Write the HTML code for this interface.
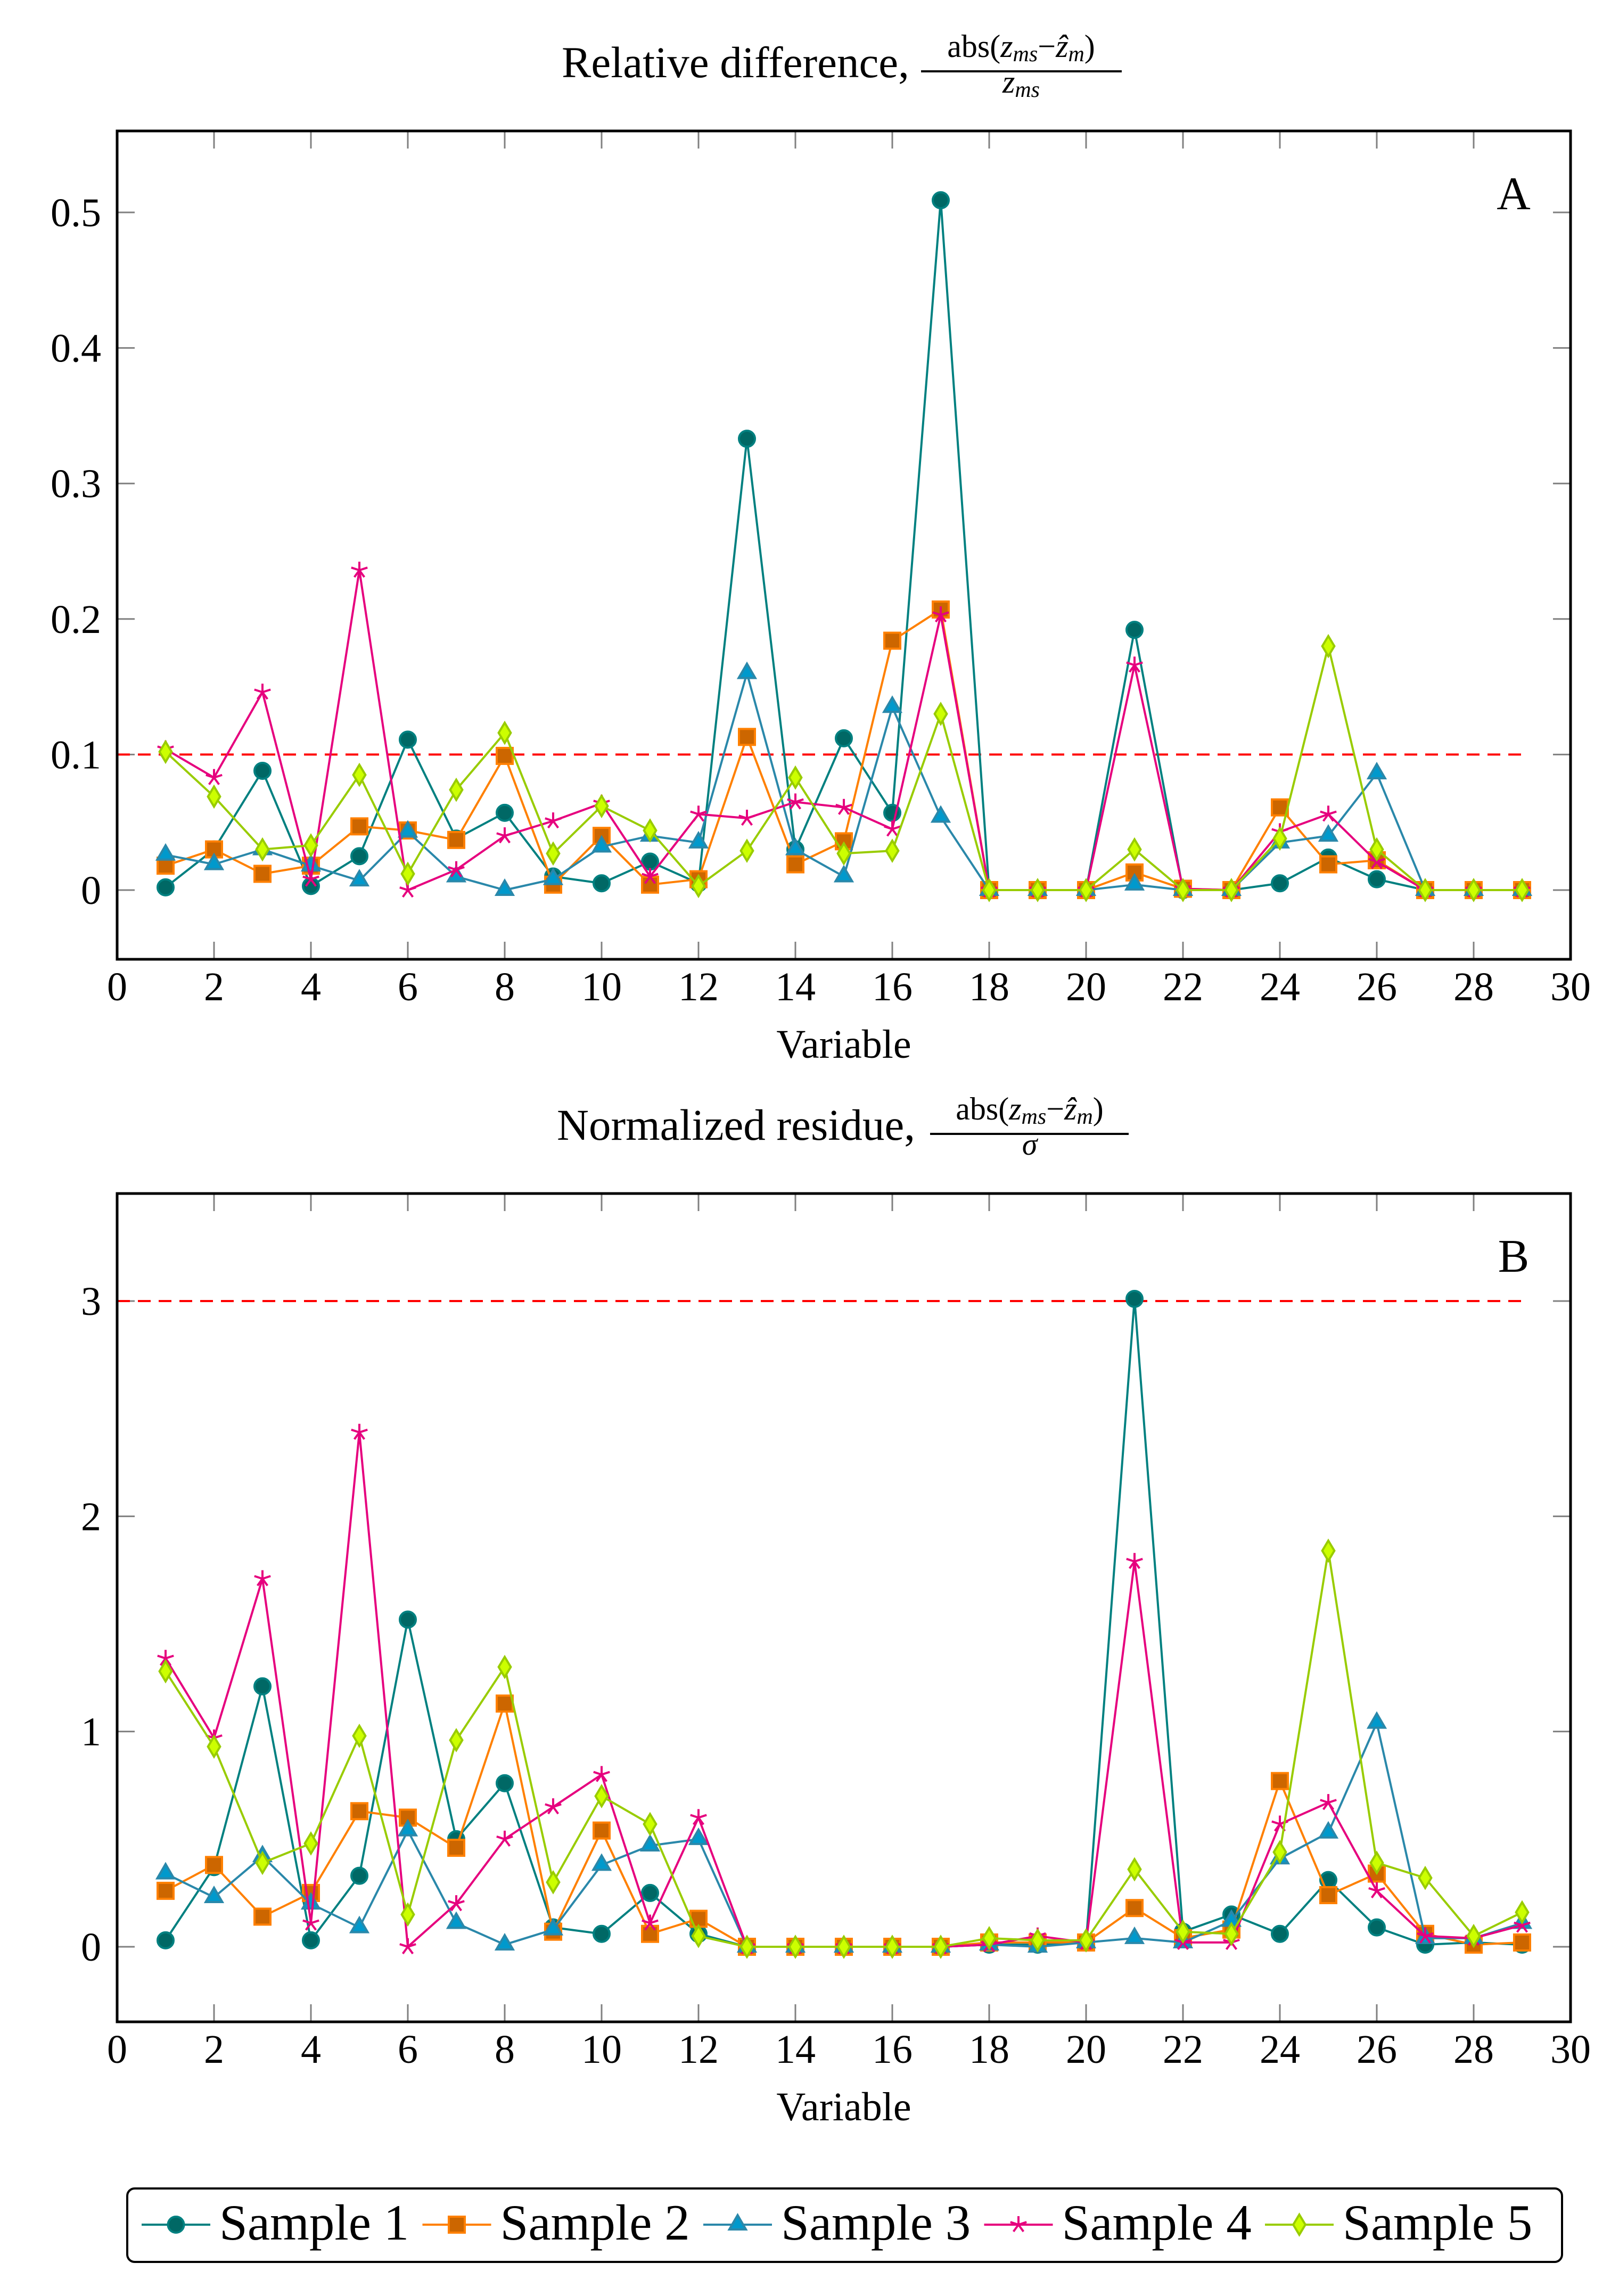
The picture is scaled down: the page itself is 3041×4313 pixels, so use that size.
<!DOCTYPE html>
<html><head><meta charset="utf-8"><style>
html,body{margin:0;padding:0;background:#fff;}
svg{display:block;font-family:"Liberation Serif",serif;}
</style></head><body>
<svg id="fig" width="3041" height="4313" viewBox="0 0 3041 4313" xmlns="http://www.w3.org/2000/svg">
<g>
<text x="1055" y="145" font-size="83">Relative difference,</text>
<text x="1918" y="107" font-size="60" text-anchor="middle">abs(<tspan font-style="italic">z</tspan><tspan font-style="italic" font-size="42" dy="8">ms</tspan><tspan dy="-8">−</tspan><tspan font-style="italic">ẑ</tspan><tspan font-style="italic" font-size="42" dy="8">m</tspan><tspan dy="-8">)</tspan></text>
<line x1="1730" x2="2107" y1="134" y2="134" stroke="#000" stroke-width="4"/>
<text x="1918" y="174" font-size="60" text-anchor="middle" font-style="italic">z<tspan font-size="42" dy="8">ms</tspan></text>
</g>
<g>
<text x="1046" y="2141" font-size="83">Normalized residue,</text>
<text x="1934" y="2103" font-size="60" text-anchor="middle">abs(<tspan font-style="italic">z</tspan><tspan font-style="italic" font-size="42" dy="8">ms</tspan><tspan dy="-8">−</tspan><tspan font-style="italic">ẑ</tspan><tspan font-style="italic" font-size="42" dy="8">m</tspan><tspan dy="-8">)</tspan></text>
<line x1="1747" x2="2120" y1="2130" y2="2130" stroke="#000" stroke-width="4"/>
<text x="1934" y="2169" font-size="58" text-anchor="middle" font-style="italic">σ</text>
</g>
<g id="chartA"></g>
<g id="chartB"></g>
<g id="legend">
<rect x="239" y="4111" width="2695" height="138" rx="14" ry="14" fill="#fff" stroke="#000" stroke-width="4"/>
</g>
</svg>
<script>
const xValues = [1,2,3,4,5,6,7,8,9,10,11,12,13,14,15,16,17,18,19,20,21,22,23,24,25,26,27,28,29];
const seriesNames = ["Sample 1","Sample 2","Sample 3","Sample 4","Sample 5"];
const xTicks = [0,2,4,6,8,10,12,14,16,18,20,22,24,26,28,30];
const yTicksA = [0,0.1,0.2,0.3,0.4,0.5];
const yTickLabelsA = ["0","0.1","0.2","0.3","0.4","0.5"];
const yTicksB = [0,1,2,3];
const yTickLabelsB = ["0","1","2","3"];
const thresholdA = 0.1;
const thresholdB = 3;
const a1 = [0.002,0.03,0.088,0.003,0.025,0.111,0.038,0.057,0.01,0.005,0.021,0.005,0.333,0.03,0.112,0.057,0.509,0,0,0,0.192,0,0,0.005,0.024,0.008,0,0,0];
const a2 = [0.018,0.03,0.012,0.018,0.047,0.044,0.037,0.099,0.004,0.04,0.004,0.008,0.113,0.019,0.036,0.184,0.207,0,0,0,0.013,0.001,0,0.061,0.019,0.022,0,0,0];
const a3 = [0.026,0.019,0.03,0.018,0.007,0.043,0.01,0,0.008,0.032,0.04,0.035,0.16,0.03,0.01,0.135,0.054,0,0,0,0.004,0,0,0.035,0.04,0.086,0,0,0];
const a4 = [0.104,0.083,0.146,0.008,0.236,0,0.015,0.04,0.051,0.064,0.01,0.056,0.053,0.065,0.061,0.045,0.203,0,0,0,0.166,0.001,0,0.043,0.056,0.021,0,0,0];
const a5 = [0.102,0.069,0.03,0.033,0.085,0.012,0.074,0.116,0.027,0.062,0.044,0.003,0.029,0.083,0.027,0.029,0.13,0,0,0,0.03,0,0,0.038,0.18,0.03,0,0,0];
const b1 = [0.03,0.37,1.21,0.03,0.33,1.52,0.5,0.76,0.09,0.06,0.25,0.06,0,0,0,0,0,0.01,0.01,0.02,3.01,0.07,0.15,0.06,0.31,0.09,0.01,0.02,0.01];
const b2 = [0.26,0.38,0.14,0.25,0.63,0.6,0.46,1.13,0.07,0.54,0.06,0.13,0,0,0,0,0,0.02,0.02,0.02,0.18,0.04,0.08,0.77,0.24,0.34,0.06,0.01,0.02];
const b3 = [0.34,0.23,0.42,0.2,0.09,0.54,0.11,0.01,0.08,0.38,0.47,0.5,0,0,0,0,0,0.01,0,0.02,0.04,0.02,0.12,0.41,0.53,1.04,0.04,0.04,0.11];
const b4 = [1.34,0.97,1.71,0.11,2.39,0,0.2,0.5,0.65,0.8,0.11,0.6,0,0,0,0,0,0.01,0.05,0.02,1.79,0.02,0.02,0.57,0.67,0.26,0.05,0.04,0.1];
const b5 = [1.28,0.93,0.39,0.48,0.98,0.15,0.96,1.3,0.3,0.7,0.57,0.05,0,0,0,0,0,0.04,0.03,0.03,0.36,0.07,0.06,0.44,1.84,0.39,0.32,0.05,0.16];

const NS="http://www.w3.org/2000/svg";
const styles=[
 {line:"#008080",fill:"#006865",edge:"#008080",m:"circle"},
 {line:"#ff8000",fill:"#cc6600",edge:"#ff8000",m:"square"},
 {line:"#2a88aa",fill:"#0099cc",edge:"#2a88aa",m:"triangle"},
 {line:"#e6007e",fill:"#e6007e",edge:"#e6007e",m:"star"},
 {line:"#99cc00",fill:"#ccff00",edge:"#99cc00",m:"diamond"}];
function mk(tag,attrs,parent){const e=document.createElementNS(NS,tag);for(const k in attrs)e.setAttribute(k,attrs[k]);parent.appendChild(e);return e;}
function marker(g,type,cx,cy,st,s){
 s=s||1;let e;
 if(type==="circle"){e=mk("circle",{cx:cx,cy:cy,r:15*s,fill:st.fill,stroke:st.edge,"stroke-width":4},g);}
 else if(type==="square"){e=mk("rect",{x:cx-15*s,y:cy-15*s,width:30*s,height:30*s,fill:st.fill,stroke:st.edge,"stroke-width":4},g);}
 else if(type==="triangle"){const r=18*s;e=mk("polygon",{points:`${cx},${cy-r} ${cx+r*0.87},${cy+r*0.5} ${cx-r*0.87},${cy+r*0.5}`,fill:st.fill,stroke:st.edge,"stroke-width":4},g);}
 else if(type==="diamond"){const r=19*s;e=mk("polygon",{points:`${cx},${cy-r} ${cx+r*0.6},${cy} ${cx},${cy+r} ${cx-r*0.6},${cy}`,fill:st.fill,stroke:st.edge,"stroke-width":4},g);}
 else {const r=16*s;let d="";for(let k=0;k<5;k++){const a=-Math.PI/2+k*2*Math.PI/5;d+=`M${cx},${cy}L${cx+r*Math.cos(a)},${cy+r*Math.sin(a)}`;}
  e=mk("path",{d:d,stroke:st.edge,"stroke-width":4,fill:"none"},g);}
 return e;
}
function drawChart(gid,cfg){
 const g=document.getElementById(gid);
 const L=220,R=2950,T=cfg.top,B=cfg.bottom;
 const xs=v=>L+(v-0)/(30-0)*(R-L);
 const ys=v=>cfg.y0+(v-0)*(cfg.y1-cfg.y0)/cfg.v1;
 xTicks.forEach((t,i)=>{
  mk("line",{x1:xs(t),x2:xs(t),y1:B,y2:B-33,stroke:"#808080","stroke-width":3},g);
  mk("line",{x1:xs(t),x2:xs(t),y1:T,y2:T+33,stroke:"#808080","stroke-width":3},g);
  const tx=mk("text",{x:xs(t),y:B+77,"font-size":76,"text-anchor":"middle"},g);
  tx.textContent=String(t);
  
  
 });
 cfg.yt.forEach((t,i)=>{
  mk("line",{x1:L,x2:L+33,y1:ys(t),y2:ys(t),stroke:"#808080","stroke-width":3},g);
  mk("line",{x1:R,x2:R-33,y1:ys(t),y2:ys(t),stroke:"#808080","stroke-width":3},g);
  const tx=mk("text",{x:190,y:ys(t)+26,"font-size":76,"text-anchor":"end"},g);
  tx.textContent=cfg.yl[i];
  
  
 });
 const th=mk("line",{x1:L,x2:xs(29),y1:ys(cfg.thr),y2:ys(cfg.thr),stroke:"#ff0000","stroke-width":4,"stroke-dasharray":"24 15"},g);
 
 
 cfg.series.forEach((vals,si)=>{
  const st=styles[si];
  const sg=mk("g",{},g);
  
  
  const pts=vals.map((v,i)=>xs(xValues[i])+","+ys(v)).join(" ");
  const pl=mk("polyline",{points:pts,fill:"none",stroke:st.line,"stroke-width":4,"stroke-linejoin":"round"},sg);
  
  
  vals.forEach((v,i)=>{
   const m=marker(sg,st.m,xs(xValues[i]),ys(v),st);
   
   
  });
 });
 const fr=mk("rect",{x:L,y:T,width:R-L,height:B-T,fill:"none",stroke:"#000","stroke-width":5},g);
 
 
 const xl=mk("text",{x:(L+R)/2,y:B+185,"font-size":76,"text-anchor":"middle"},g);
 xl.textContent="Variable";
 
 
 const pl=mk("text",{x:2843,y:T+147,"font-size":88,"text-anchor":"middle"},g);
 pl.textContent=cfg.panel;
 
 
}
drawChart("chartA",{top:246,bottom:1802,y0:1672,y1:399,v1:0.5,yt:yTicksA,yl:yTickLabelsA,thr:thresholdA,series:[a1,a2,a3,a4,a5],panel:"A"});
drawChart("chartB",{top:2242,bottom:3798,y0:3657,y1:2444,v1:3,yt:yTicksB,yl:yTickLabelsB,thr:thresholdB,series:[b1,b2,b3,b4,b5],panel:"B"});
const lg=document.getElementById("legend");
seriesNames.forEach((n,i)=>{
 const st=styles[i];const x0=266+527.5*i;
 const eg=mk("g",{},lg);
 
 
 mk("line",{x1:x0,x2:x0+129,y1:4179,y2:4179,stroke:st.line,"stroke-width":4},eg);
 marker(eg,st.m,x0+64.5,4179,st);
 const t=mk("text",{x:x0+146,y:4207,"font-size":95},eg);
 t.textContent=n;
 
 
});
</script>
</body></html>
